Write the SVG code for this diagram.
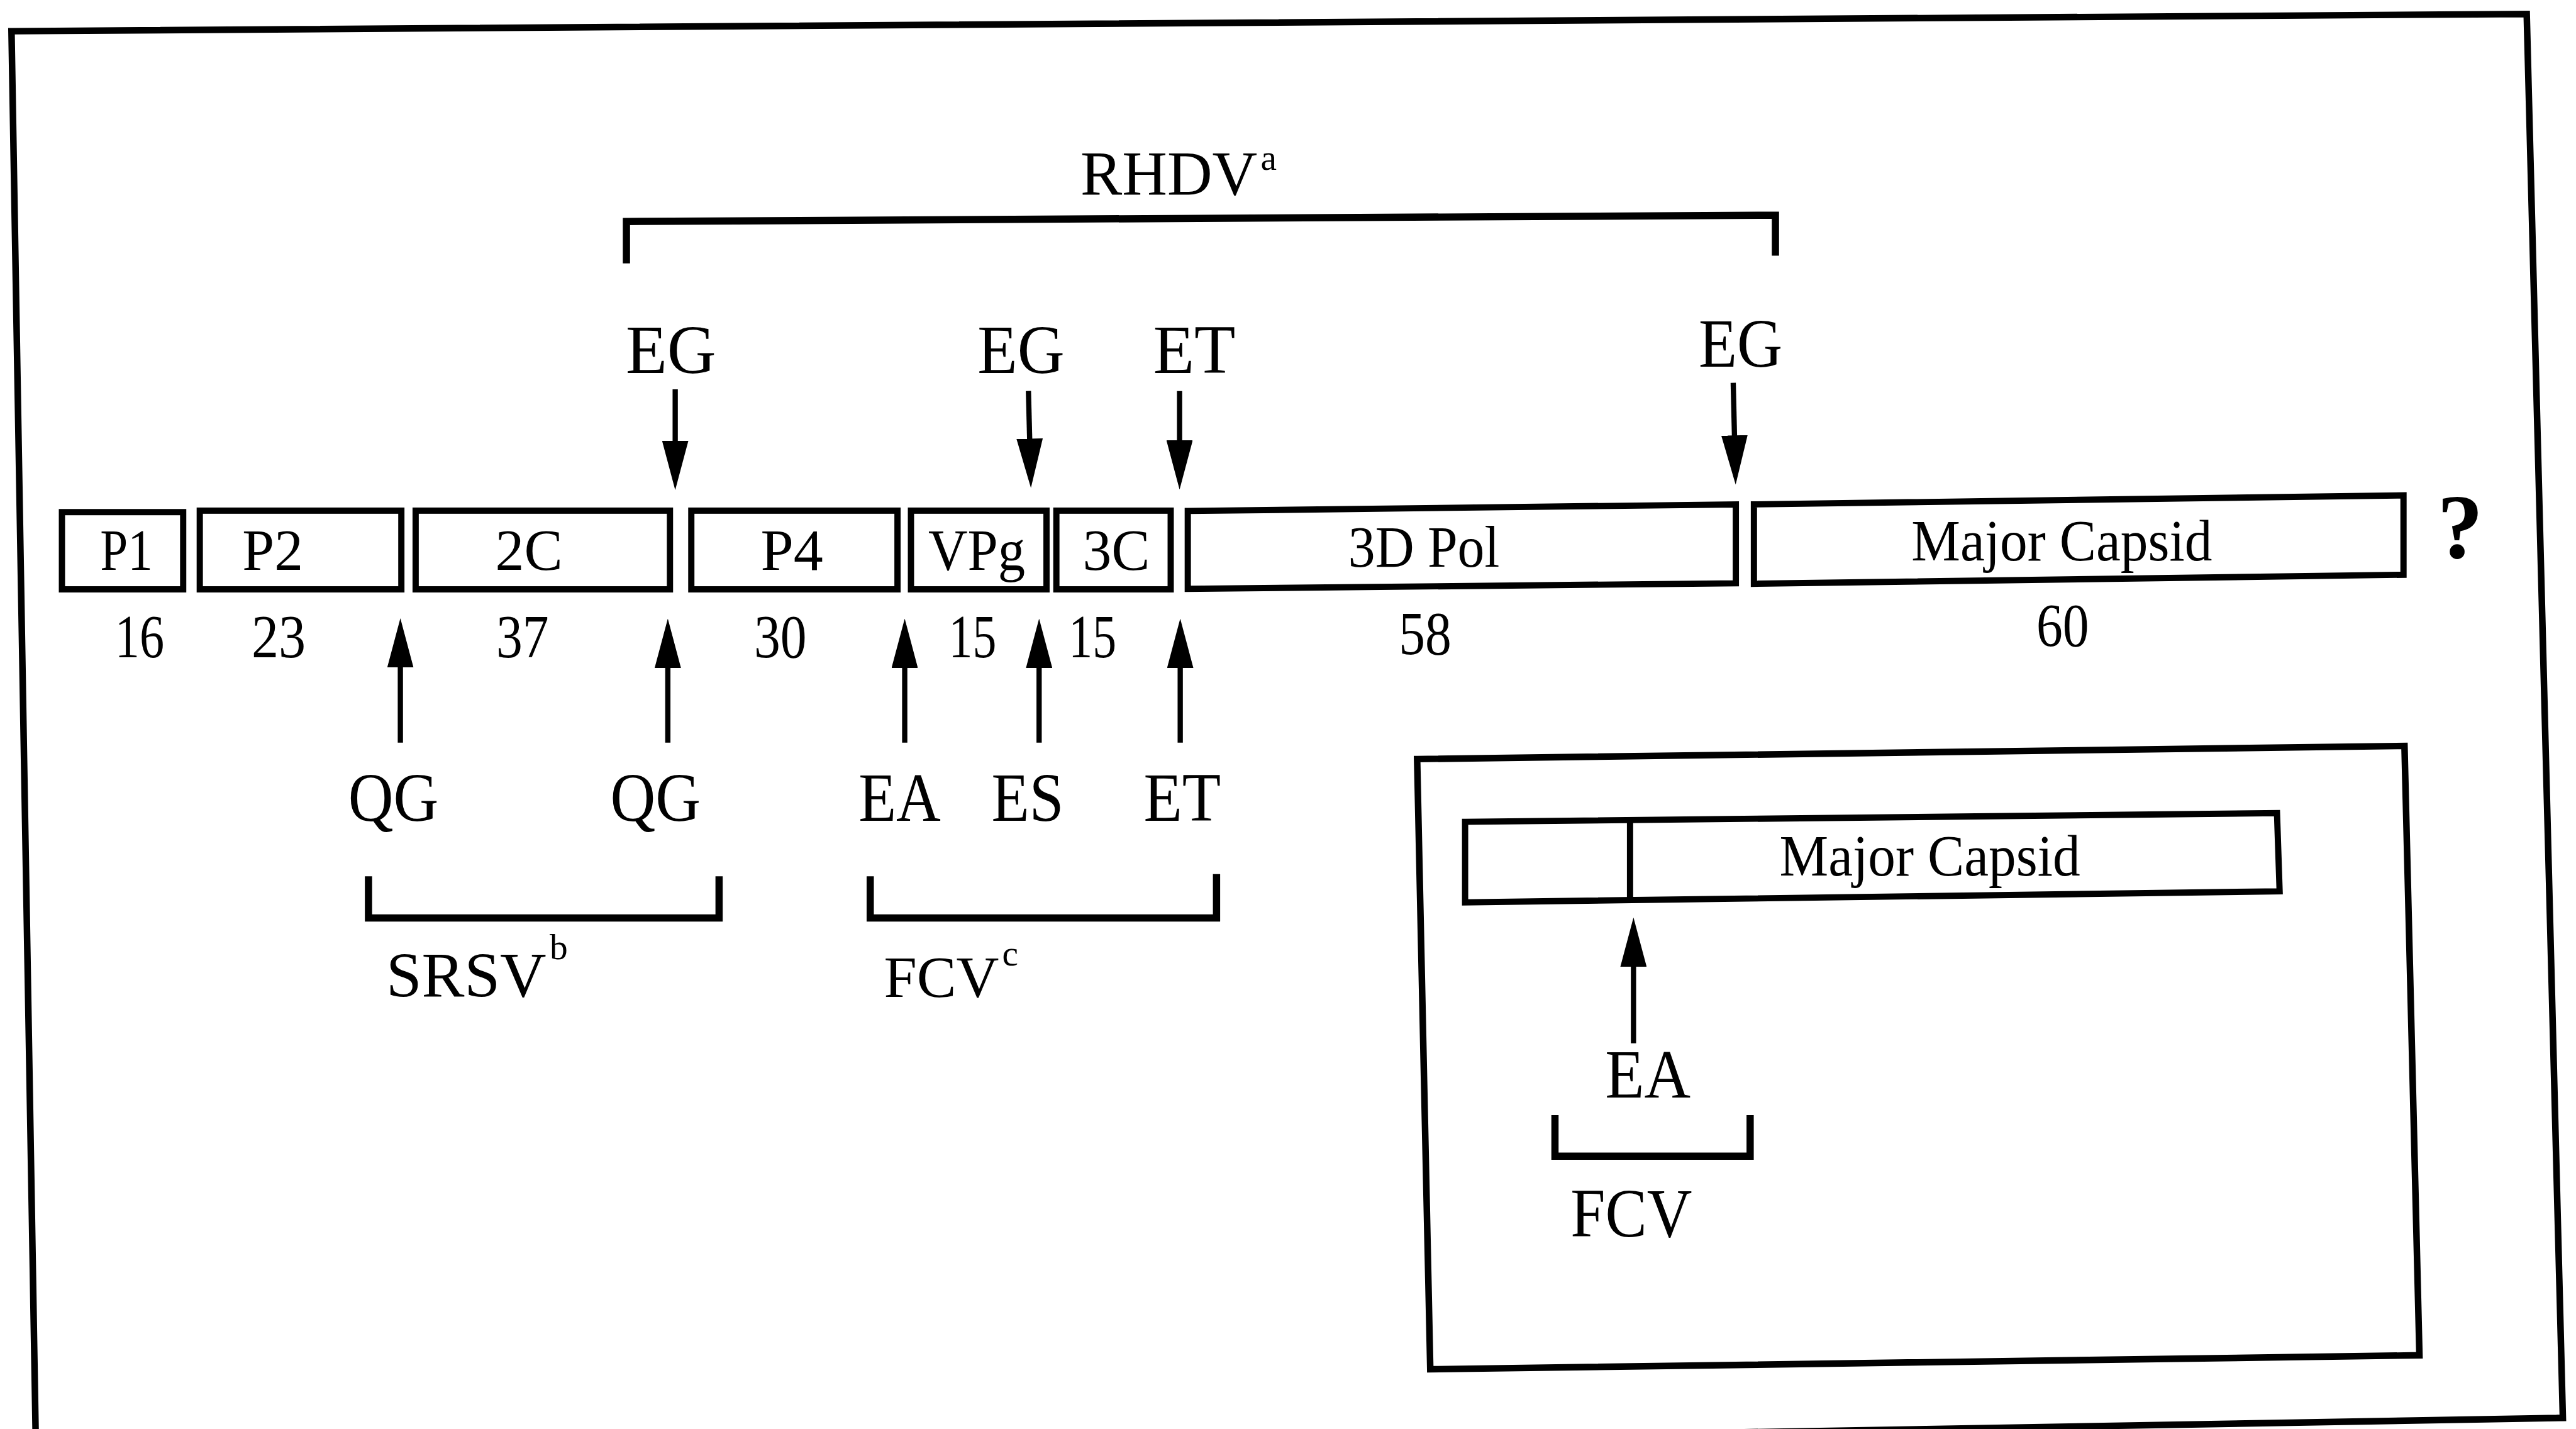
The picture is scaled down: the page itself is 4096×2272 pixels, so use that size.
<svg xmlns="http://www.w3.org/2000/svg" width="4096" height="2272" viewBox="0 0 4096 2272">
<style>
  .box { fill: #fff; stroke: #000; stroke-width: 3.8; stroke-linejoin: miter; }
  .frame { fill: none; stroke: #000; stroke-width: 4; stroke-linejoin: miter; }
  .arr { fill: none; stroke: #000; stroke-width: 3.2; marker-end: url(#ah); }
  .brk { fill: none; stroke: #000; stroke-width: 4.4; stroke-linejoin: miter; }
  text { font-family: "Liberation Serif", "Times New Roman", serif; fill: #000; }
  .bl { font-size: 36px; text-anchor: middle; }
  .num { font-size: 37px; text-anchor: middle; }
  .lab { font-size: 42px; text-anchor: middle; }
  .sup { font-size: 22px; }
  .q { font-size: 56px; font-weight: bold; text-anchor: middle; }
</style>
<defs>
  <marker id="ah" viewBox="0 0 30 16" refX="10" refY="8" markerWidth="30" markerHeight="16" markerUnits="userSpaceOnUse" orient="auto">
    <path d="M0,0 L30,8 L0,16 Z" fill="#000"/>
  </marker>
</defs>
<rect x="0" y="0" width="4096" height="2272" fill="#fff"/>
<g transform="scale(2.612245)">
  <g id="frame">
    <polygon class="frame" points="7,19 1538,8.5 1560,863 22,890"/>
  </g>

  <g id="p1"><rect class="box" x="37.7" y="311.7" width="73.8" height="47"/><text class="bl" x="77" y="347" textLength="32" lengthAdjust="spacingAndGlyphs">P1</text><text class="num" x="85" y="400" textLength="30" lengthAdjust="spacingAndGlyphs">16</text></g>
  <g id="p2"><rect class="box" x="121.6" y="310.8" width="122.7" height="47.9"/><text class="bl" x="166" y="347" textLength="37" lengthAdjust="spacingAndGlyphs">P2</text><text class="num" x="169.6" y="400" textLength="33" lengthAdjust="spacingAndGlyphs">23</text></g>
  <g id="c2"><rect class="box" x="253" y="310.8" width="154.8" height="47.9"/><text class="bl" x="322" y="347" textLength="41" lengthAdjust="spacingAndGlyphs">2C</text><text class="num" x="318" y="400" textLength="32" lengthAdjust="spacingAndGlyphs">37</text></g>
  <g id="p4"><rect class="box" x="420.8" y="310.8" width="125.5" height="47.9"/><text class="bl" x="482" y="347" textLength="38" lengthAdjust="spacingAndGlyphs">P4</text><text class="num" x="475" y="400" textLength="32" lengthAdjust="spacingAndGlyphs">30</text></g>
  <g id="vpg"><rect class="box" x="554.5" y="310.8" width="82.5" height="47.9"/><text class="bl" x="594.5" y="347" textLength="59" lengthAdjust="spacingAndGlyphs">VPg</text><text class="num" x="592" y="400" textLength="29" lengthAdjust="spacingAndGlyphs">15</text></g>
  <g id="c3"><rect class="box" x="643" y="310.8" width="69.6" height="47.9"/><text class="bl" x="679.5" y="347" textLength="41" lengthAdjust="spacingAndGlyphs">3C</text><text class="num" x="665" y="400" textLength="29" lengthAdjust="spacingAndGlyphs">15</text></g>
  <g id="pol"><polygon class="box" points="723,311 1056.6,307 1056.6,355 723,358.4"/><text class="bl" x="866.7" y="345" textLength="92" lengthAdjust="spacingAndGlyphs">3D Pol</text><text class="num" x="867.5" y="398" textLength="32" lengthAdjust="spacingAndGlyphs">58</text></g>
  <g id="capsid"><polygon class="box" points="1067.6,307 1463,301.5 1463,349.8 1067.6,355.3"/><text class="bl" x="1255" y="341" textLength="183" lengthAdjust="spacingAndGlyphs">Major Capsid</text><text class="num" x="1255.5" y="393" textLength="32" lengthAdjust="spacingAndGlyphs">60</text></g>
  <g id="qmark"><text class="q" x="1497.5" y="339.5">?</text></g>

  <g id="rhdv"><text x="657.7" y="118.3" font-size="38">RHDV<tspan class="sup" dx="2" dy="-15">a</tspan></text></g>
  <g id="top-labels">
    <text class="lab" x="408.4" y="227" textLength="55" lengthAdjust="spacingAndGlyphs">EG</text>
    <text class="lab" x="621.5" y="227" textLength="53" lengthAdjust="spacingAndGlyphs">EG</text>
    <text class="lab" x="727" y="227" textLength="50" lengthAdjust="spacingAndGlyphs">ET</text>
    <text class="lab" x="1059.5" y="223" textLength="51" lengthAdjust="spacingAndGlyphs">EG</text>
  </g>
  <g id="bottom-labels">
    <text class="lab" x="239.5" y="499.6" textLength="55" lengthAdjust="spacingAndGlyphs">QG</text>
    <text class="lab" x="399" y="499.6" textLength="55" lengthAdjust="spacingAndGlyphs">QG</text>
    <text class="lab" x="547.6" y="499.6" textLength="50" lengthAdjust="spacingAndGlyphs">EA</text>
    <text class="lab" x="625.5" y="499.6" textLength="44" lengthAdjust="spacingAndGlyphs">ES</text>
    <text class="lab" x="719.6" y="499.6" textLength="47" lengthAdjust="spacingAndGlyphs">ET</text>
  </g>
  <g id="srsv"><text x="235" y="606.8" font-size="39">SRSV<tspan class="sup" dx="2" dy="-23">b</tspan></text></g>
  <g id="fcv"><text x="538" y="606.8" font-size="36">FCV<tspan class="sup" dx="2" dy="-19">c</tspan></text></g>

  <g id="inset">
    <polygon class="frame" points="862.6,462 1463.6,454 1472.7,824.9 870.6,833.4"/>
    <polygon class="box" points="891.8,500.2 1386,494.9 1387.6,542.5 891.8,549.2"/>
    <line x1="992.2" y1="499" x2="992.2" y2="548" stroke="#000" stroke-width="3.8"/>
    <text class="bl" x="1174.7" y="533" textLength="183" lengthAdjust="spacingAndGlyphs">Major Capsid</text>
    <text class="lab" x="1003" y="668" textLength="52" lengthAdjust="spacingAndGlyphs">EA</text>
    <text class="lab" x="993" y="752.7" textLength="74" lengthAdjust="spacingAndGlyphs">FCV</text>
  </g>

  <g id="connectors">
    <line class="arr" x1="411" y1="237" x2="411" y2="278.3"/>
    <line class="arr" x1="626" y1="238" x2="627" y2="277"/>
    <line class="arr" x1="718" y1="238" x2="718" y2="278"/>
    <line class="arr" x1="1055" y1="233" x2="1056" y2="275"/>
    <line class="arr" x1="243.7" y1="452" x2="243.7" y2="396.3"/>
    <line class="arr" x1="406.5" y1="452" x2="406.5" y2="396.5"/>
    <line class="arr" x1="550.7" y1="452" x2="550.7" y2="396.5"/>
    <line class="arr" x1="632.5" y1="452" x2="632.5" y2="396.5"/>
    <line class="arr" x1="718.4" y1="452" x2="718.4" y2="396.5"/>
    <line class="arr" x1="994.3" y1="635" x2="994.3" y2="578.4"/>
    <path class="brk" d="M381.3,160.3 V134.8 L1080.7,131 V155.6"/>
    <path class="brk" d="M224.3,533.4 V558.7 H437.7 V533.4"/>
    <path class="brk" d="M529.7,533.4 V558.7 H740.5 V532"/>
    <path class="brk" d="M946.5,678.7 V703.7 H1065.3 V678.7"/>
  </g>
</g>
</svg>
